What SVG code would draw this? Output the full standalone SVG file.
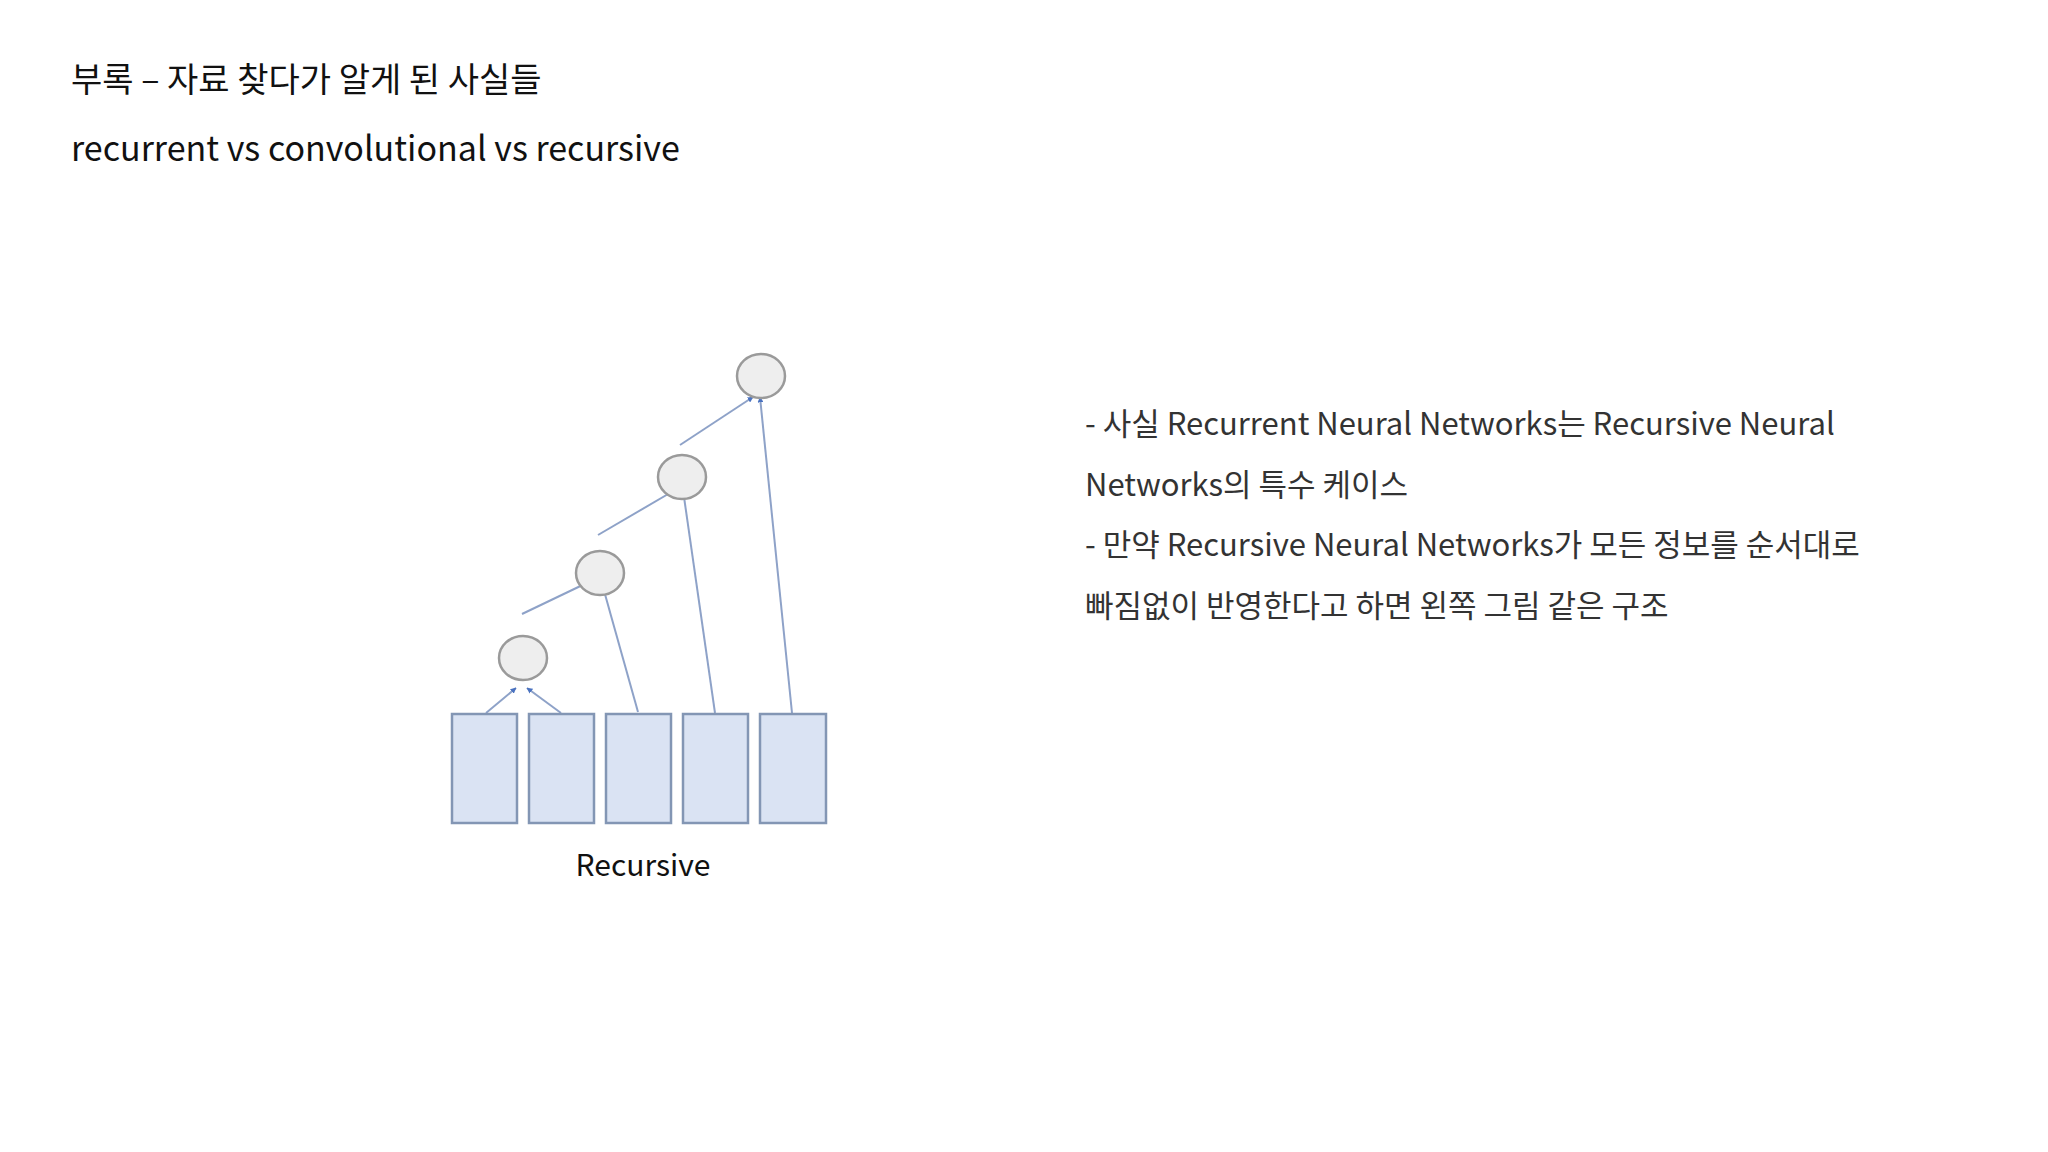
<svg xmlns="http://www.w3.org/2000/svg" width="2048" height="1152" viewBox="0 0 2048 1152">
<style>
.t{font-family:"Noto Sans CJK KR","Noto Sans",sans-serif;fill:#111}
.b{font-family:"Noto Sans CJK KR","Noto Sans",sans-serif;fill:#333;font-size:31px}
.r{fill:#dae3f3;stroke:#8396b4;stroke-width:2.5}
.c{fill:#eeeeee;stroke:#9a9a9a;stroke-width:2.5}
.e{stroke:#8ea2c8;stroke-width:2;fill:none;marker-end:url(#a)}
</style>
<defs><marker id="a" viewBox="0 0 10 10" refX="9" refY="5" markerWidth="6" markerHeight="6" orient="auto" markerUnits="userSpaceOnUse"><path d="M0,0L10,5L0,10z" fill="#4a72c0"/></marker></defs>
<rect width="2048" height="1152" fill="#fff"/>
<text class="t" x="71" y="92" font-size="34">부록 – 자료 찾다가 알게 된 사실들</text>
<text class="t" x="71" y="161" font-size="34">recurrent vs convolutional vs recursive</text>
<g id="connectors">
<line class="e" x1="486" y1="713" x2="516" y2="688"/>
<line class="e" x1="561" y1="713" x2="527" y2="688"/>
<line class="e" x1="522" y1="614" x2="593" y2="580"/>
<line class="e" x1="638" y1="712" x2="601" y2="580"/>
<line class="e" x1="598" y1="535" x2="675" y2="490"/>
<line class="e" x1="715" y1="713" x2="683" y2="490"/>
<line class="e" x1="680" y1="445" x2="753" y2="397"/>
<line class="e" x1="792" y1="713" x2="760" y2="397"/>
</g>
<g id="inputs">
<rect class="r" x="452" y="714" width="65" height="109"/>
<rect class="r" x="529" y="714" width="65" height="109"/>
<rect class="r" x="606" y="714" width="65" height="109"/>
<rect class="r" x="683" y="714" width="65" height="109"/>
<rect class="r" x="760" y="714" width="66" height="109"/>
</g>
<g id="n1"><ellipse class="c" cx="523" cy="658" rx="24" ry="22"/></g>
<g id="n2"><ellipse class="c" cx="600" cy="573" rx="24" ry="22"/></g>
<g id="n3"><ellipse class="c" cx="682" cy="477" rx="24" ry="22"/></g>
<g id="n4"><ellipse class="c" cx="761" cy="376" rx="24" ry="22"/></g>
<text class="t" x="643" y="876" font-size="30" text-anchor="middle" fill="#333">Recursive</text>
<text class="b" x="1085" y="435">- 사실 Recurrent Neural Networks는 Recursive Neural</text>
<text class="b" x="1085" y="496">Networks의 특수 케이스</text>
<text class="b" x="1085" y="556">- 만약 Recursive Neural Networks가 모든 정보를 순서대로</text>
<text class="b" x="1085" y="617">빠짐없이 반영한다고 하면 왼쪽 그림 같은 구조</text>
</svg>
